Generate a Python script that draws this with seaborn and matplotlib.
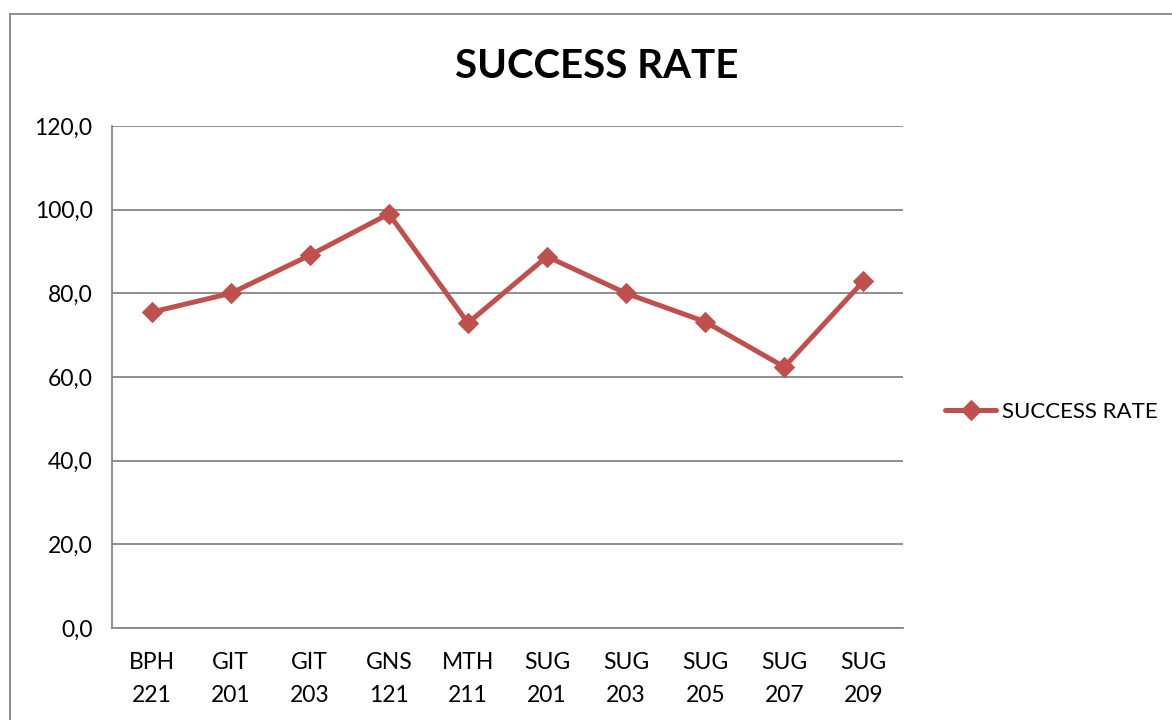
import matplotlib
matplotlib.use("Agg")
import matplotlib.pyplot as plt
import seaborn as sns
from matplotlib.patches import Rectangle
from matplotlib.ticker import FuncFormatter, FixedLocator

# data
courses = ["BPH\n221", "GIT\n201", "GIT\n203", "GNS\n121", "MTH\n211",
           "SUG\n201", "SUG\n203", "SUG\n205", "SUG\n207", "SUG\n209"]
success_rate = [75.5, 80.0, 89.1, 99.0, 72.9, 88.8, 80.0, 73.2, 62.4, 82.9]
y_ticks = [0, 20, 40, 60, 80, 100, 120]

sns.set_style("white")
plt.rcParams['font.family'] = ['Lato', 'DejaVu Sans']
plt.rcParams['text.color'] = 'black'
plt.rcParams['xtick.labelcolor'] = 'black'
plt.rcParams['ytick.labelcolor'] = 'black'

red = "#C0504D"
grey = "#868686"

fig = plt.figure(figsize=(11.72, 7.2), dpi=100)
ax = fig.add_axes([112/1172, 1 - 628/720, (903-112)/1172, (628-126)/720])

sns.lineplot(x=courses, y=success_rate, ax=ax, sort=False, color=red,
             linewidth=3.6, marker="D", markersize=10, markeredgecolor=red,
             label="SUCCESS RATE", legend=False)

ax.set_xlim(-0.5, len(courses) - 0.5)
ax.set_ylim(0, 120)
ax.yaxis.set_major_locator(FixedLocator(y_ticks))
ax.yaxis.set_major_formatter(FuncFormatter(lambda v, p: f"{v:.1f}".replace(".", ",")))
ax.grid(axis="y", color=grey, linewidth=1.3)
ax.set_axisbelow(True)

for s in ["top", "right"]:
    ax.spines[s].set_visible(False)
for s in ["left", "bottom"]:
    ax.spines[s].set_color(grey)
    ax.spines[s].set_linewidth(1.3)

ax.set_xticks([b - 0.5 for b in range(len(courses) + 1)], minor=True)
ax.tick_params(axis="x", which="major", length=0, pad=17, labelsize=16.5, labelcolor="black")
ax.tick_params(axis="x", which="minor", length=5.5, width=1.3, color=grey, direction="out")
ax.tick_params(axis="y", which="major", length=6, width=1.3, color=grey, direction="out",
               labelsize=16.5, pad=8, labelcolor="black")
ax.set_xlabel("")
ax.set_ylabel("")
for lab in ax.get_xticklabels():
    lab.set_linespacing(1.7)

fig.text(597/1172, 1 - 67/720, "SUCCESS RATE", ha="center", va="center",
         fontsize=29, fontweight="bold", color="black")

handles, labels = ax.get_legend_handles_labels()
fig.legend(handles, labels, loc="center left", bbox_to_anchor=(925/1172, 1 - 412/720),
           frameon=False, fontsize=16, handlelength=2.3, handletextpad=0.25,
           labelcolor="black")

fig.patches.append(Rectangle((10/1172, -0.05), 1.0, 1 - 14/720 + 0.05,
                             transform=fig.transFigure, fill=False,
                             edgecolor=grey, linewidth=1.3))

fig.savefig("out.png", dpi=100)
